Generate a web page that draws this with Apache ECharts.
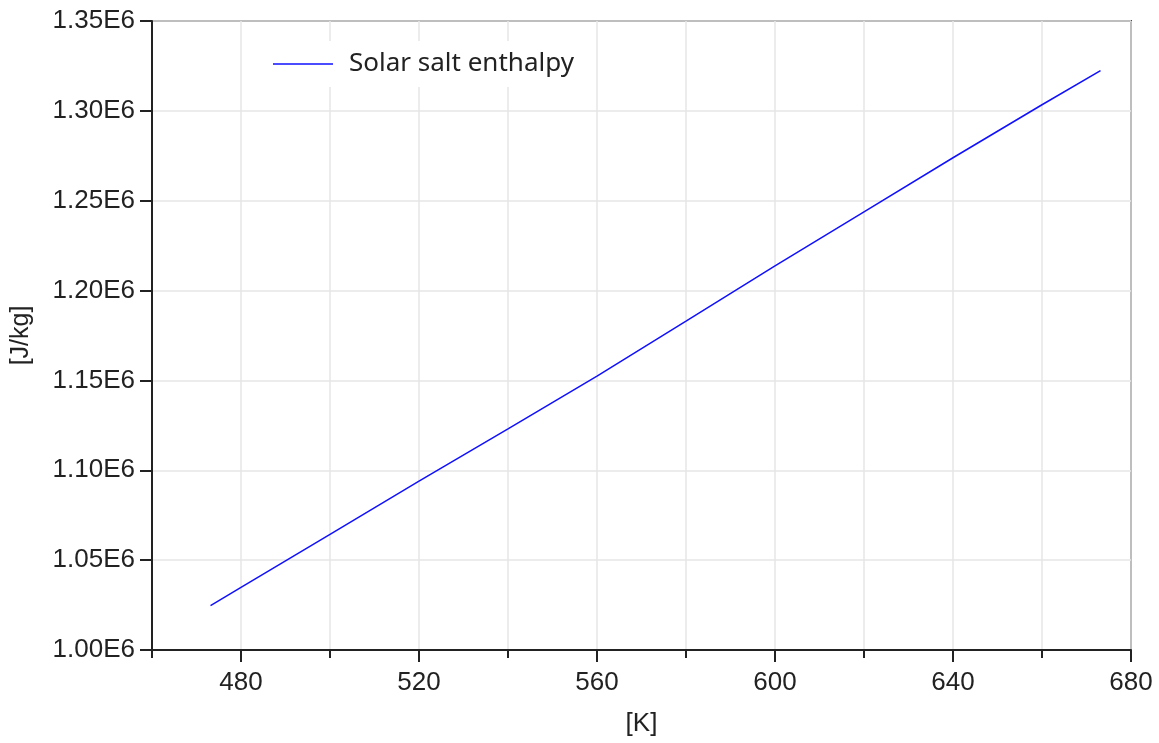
<!DOCTYPE html>
<html>
<head>
<meta charset="utf-8">
<title>Solar salt enthalpy</title>
<script src="https://cdn.jsdelivr.net/npm/echarts@6/dist/echarts.min.js"></script>
<style>
html, body { margin: 0; padding: 0; background: #fff; }
#main { width: 1159px; height: 743px; }
</style>
</head>
<body>
<div id="main"></div>
<script>
// temperature [K] and enthalpy [J/kg]
var temps = [473.15, 480, 500, 520, 540, 560, 580, 600, 620, 640, 660, 673.15];
var enthalpy = [1.0247e6, 1.0349e6, 1.0643e6, 1.0940e6, 1.1230e6, 1.1524e6, 1.1830e6, 1.2137e6, 1.2438e6, 1.2739e6, 1.3034e6, 1.3224e6];
var xLabels = [480, 520, 560, 600, 640, 680];

var points = temps.map(function (t, i) { return [t, enthalpy[i]]; });

var myChart = echarts.init(document.getElementById('main'));
var font = 'Liberation Sans, Arial, sans-serif';

var option = {
	animation: false,
	grid: {
		left: 152,
		right: 28,
		top: 21,
		bottom: 93,
		show: true,
		borderColor: '#4a4a4a',
		borderWidth: 2,
		backgroundColor: '#fff'
	},
	legend: {
		left: 261,
		top: 41,
		padding: [10, 18, 10, 12],
		backgroundColor: '#fff',
		icon: 'rect',
		itemWidth: 60,
		itemHeight: 1.5,
		textStyle: {
			fontFamily: 'Noto Sans, Open Sans, sans-serif',
			fontSize: 26,
			color: '#222',
			padding: [0, 0, 0, 11]
		},
		data: ['Solar salt enthalpy']
	},
	xAxis: [{
		type: 'value',
		min: 460,
		max: 680,
		interval: 20,
		name: '[K]',
		nameLocation: 'middle',
		nameGap: 61,
		nameTextStyle: { fontFamily: font, fontSize: 26, color: '#222' },
		axisLine: { lineStyle: { color: '#222', width: 2 } },
		axisTick: { length: 8, lineStyle: { color: '#222', width: 2 } },
		axisLabel: {
			margin: 20,
			fontFamily: font,
			fontSize: 26,
			color: '#222',
			formatter: function (v) { return xLabels.indexOf(v) >= 0 ? String(v) : ''; }
		},
		splitLine: { show: true, lineStyle: { color: '#e6e6e6', width: 1.5 } }
	}, {
		type: 'value',
		min: 460,
		max: 680,
		position: 'bottom',
		axisLine: { show: false },
		axisTick: { show: true, length: 12, customValues: xLabels, lineStyle: { color: '#222', width: 2 } },
		axisLabel: { show: false },
		splitLine: { show: false }
	}],
	yAxis: {
		type: 'value',
		min: 1.0e6,
		max: 1.35e6,
		interval: 0.05e6,
		name: '[J/kg]',
		nameLocation: 'middle',
		nameGap: 118,
		nameTextStyle: { fontFamily: font, fontSize: 25, color: '#222' },
		axisLine: { show: true, lineStyle: { color: '#222', width: 2 } },
		axisTick: { show: true, length: 12, lineStyle: { color: '#222', width: 2 } },
		axisLabel: {
			margin: 17,
			fontFamily: font,
			fontSize: 26,
			color: '#222',
			formatter: function (v) { return (v / 1e6).toFixed(2) + 'E6'; }
		},
		splitLine: { show: true, lineStyle: { color: '#e6e6e6', width: 1.5 } }
	},
	series: [{
		name: 'Solar salt enthalpy',
		type: 'line',
		data: points,
		showSymbol: false,
		symbol: 'none',
		lineStyle: { color: '#1010ff', width: 1.5 },
		itemStyle: { color: '#1010ff' }
	}]
};

myChart.setOption(option);

window.onresize = function () {
	myChart.resize();
};
</script>
</body>
</html>
